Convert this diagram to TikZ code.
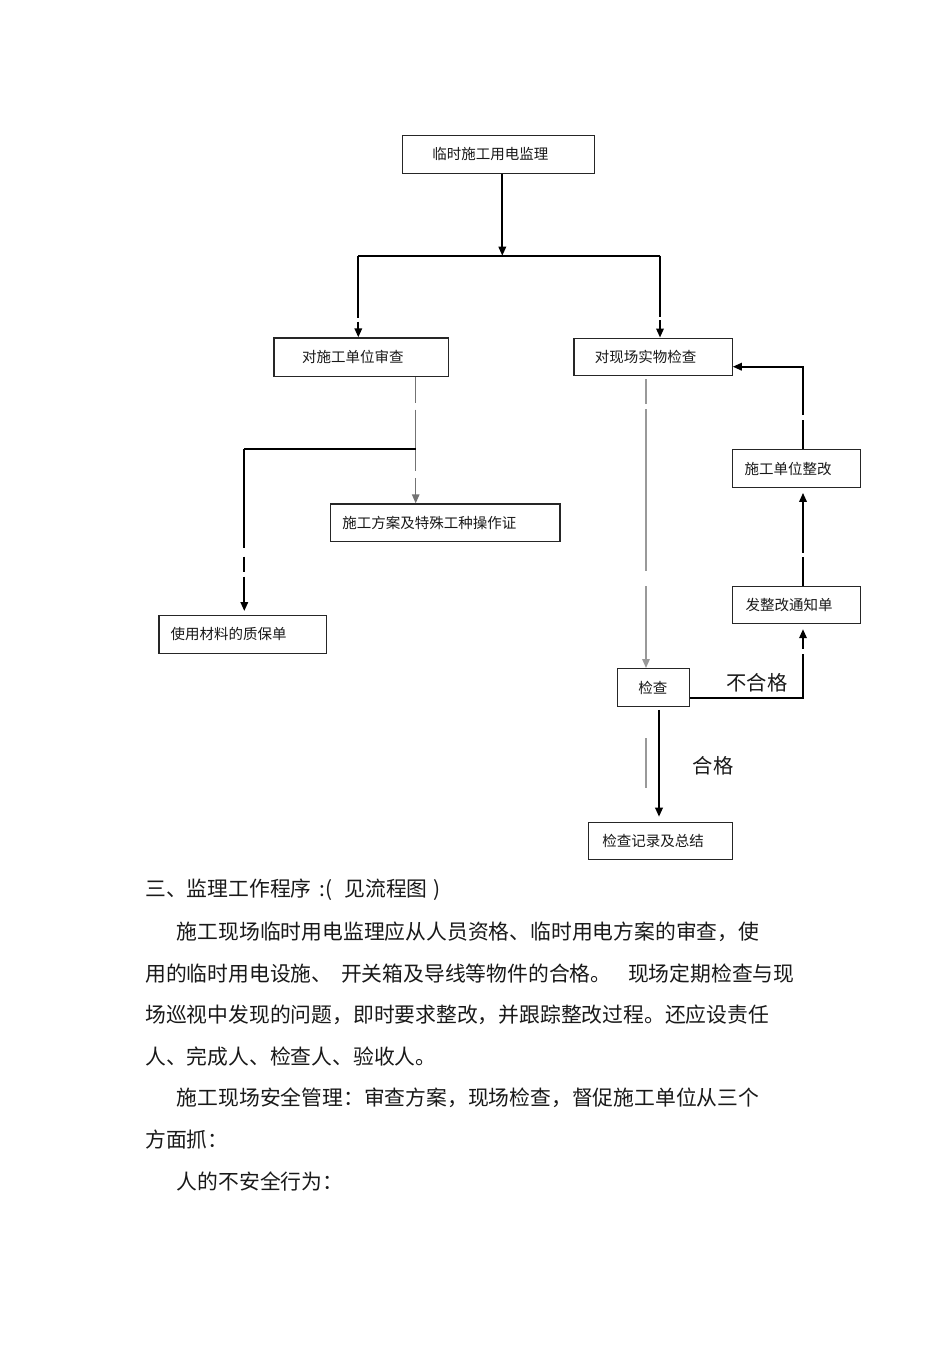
\documentclass[tikz,border=0pt]{standalone}
\usepackage{fontspec}
\setmainfont{Noto Sans CJK SC}
\usetikzlibrary{arrows.meta}
\newcommand{\boxfont}{\fontsize{14.5}{17}\selectfont}
\newcommand{\bodyfont}{\fontsize{20.8}{24}\selectfont}
\newcommand{\lblfont}{\fontsize{20.3}{24}\selectfont}
\tikzset{
  box/.style={draw=black!85, line width=1.2pt, anchor=north west, align=left, inner ysep=0pt, font=\boxfont, text=black!90},
  conn/.style={draw=black, line width=1.8pt},
  gconn/.style={draw=black!55, line width=1.4pt},
  lconn/.style={draw=black!40, line width=1.4pt},
  tip/.style={-{Triangle[length=9pt,width=7.5pt]}},
  body/.style={anchor=west, inner sep=0pt, font=\bodyfont, text=black!90},
  lbl/.style={inner sep=0pt, font=\lblfont, text=black!90}
}
\begin{document}
\begin{tikzpicture}[x=1pt, y=-1pt]
\useasboundingbox[fill=white] (0,0) rectangle (950,1345);

% boxes
\node[box, minimum height=37.7pt, text width=132.6pt, inner xsep=29.7pt] (top) at (402,135) {临时施工用电监理};
\node[box, minimum height=38.7pt, text width=117.7pt, inner xsep=28.3pt] (review) at (273.3,337.3) {对施工单位审查};
\node[box, minimum height=37.5pt, text width=116.3pt, inner xsep=21pt] (site) at (573.3,337.5) {对现场实物检查};
\node[box, minimum height=37.4pt, text width=205.9pt, inner xsep=11.7pt] (plan) at (330,503.3) {施工方案及特殊工种操作证};
\node[box, minimum height=37.7pt, text width=144pt, inner xsep=11.7pt] (mat) at (158.3,615) {使用材料的质保单};
\node[box, minimum height=38pt, text width=103.7pt, inner xsep=12.3pt] (rectify) at (731.7,449) {施工单位整改};
\node[box, minimum height=37.3pt, text width=101.7pt, inner xsep=13.3pt] (notice) at (731.7,585.7) {发整改通知单};
\node[box, minimum height=37.7pt, text width=30.3pt, inner xsep=21pt] (check) at (616.7,668) {检查};
\node[box, minimum height=37.3pt, text width=116.6pt, inner xsep=13.7pt] (record) at (588,821.7) {检查记录及总结};

% junctions
\coordinate (jTop) at (502.3,255.7);
\coordinate (hL) at (358.3,255.7);
\coordinate (hR) at (660,255.7);
\coordinate (jM) at (415.7,449.3);
\coordinate (jL) at (244.3,449.3);
\coordinate (jC) at (646,400);
\coordinate (jD) at (659,760);
\coordinate (jR) at (803,697.7);
\coordinate (jS) at (803,366.7);
\coordinate (g1) at (646,738);
\coordinate (g2) at (646,788);

% connectors
\draw[conn, tip] (top.south -| jTop) -- (jTop);
\draw[conn] (hL) -- (hR);
\draw[conn, tip, dash pattern=on 62pt off 4pt on 100pt] (hL) -- (review.north -| hL);
\draw[conn, tip, dash pattern=on 61pt off 3.3pt on 100pt] (hR) -- (site.north -| hR);

\draw[gconn, tip, dash pattern=on 25.7pt off 6.6pt on 61.7pt off 6.7pt on 100pt] (review.south -| jM) -- (plan.north -| jM);
\draw[conn] (jM) -- (jL);
\draw[conn, tip, shorten >=4pt, dash pattern=on 98.7pt off 8.7pt on 15pt off 5pt on 100pt] (jL) -- (mat.north -| jL);

\draw[lconn, tip, shorten <=3pt, dash pattern=on 25pt off 5pt on 162pt off 15pt on 200pt] (site.south -| jC) -- (check.north -| jC);
\draw[lconn] (g1) -- (g2);
\draw[conn, tip, shorten <=3pt, shorten >=5pt] (check.south -| jD) -- (record.north -| jD);

\draw[conn, tip, shorten >=5pt, dash pattern=on 156.7pt off 5pt on 100pt] (jR -| check.east) -- (jR) -- (notice.south -| jR);
\draw[conn, tip, shorten >=4.7pt, dash pattern=on 29pt off 4pt on 100pt] (notice.north -| jR) -- (rectify.south -| jR);
\draw[conn, tip, dash pattern=on 29pt off 5pt on 200pt] (rectify.north -| jS) -- (jS) -- (jS -| site.east);

% labels
\node[lbl] (fail) at (757,683) {不合格};
\node[lbl] (pass) at (713,766) {合格};

% body text
\node[body] (t1) at (145,890) {三、监理工作程序\hspace{8pt}:(\hspace{12pt}见流程图\hspace{6pt})};
\node[body] (t2) at (176.7,931.6) {施工现场临时用电监理应从人员资格、临时用电方案的审查，使};
\node[body] (t3) at (145,973.2) {用的临时用电设施、\hspace{4pt} 开关箱及导线等物件的合格。\hspace{12pt} 现场定期检查与现};
\node[body] (t4) at (145,1014.8) {场巡视中发现的问题，即时要求整改，并跟踪整改过程。还应设责任};
\node[body] (t5) at (145,1056.4) {人、完成人、检查人、验收人。};
\node[body] (t6) at (176.7,1098) {施工现场安全管理：审查方案，现场检查，督促施工单位从三个};
\node[body] (t7) at (145,1139.6) {方面抓：};
\node[body] (t8) at (176.7,1181.2) {人的不安全行为：};
\end{tikzpicture}
\end{document}
